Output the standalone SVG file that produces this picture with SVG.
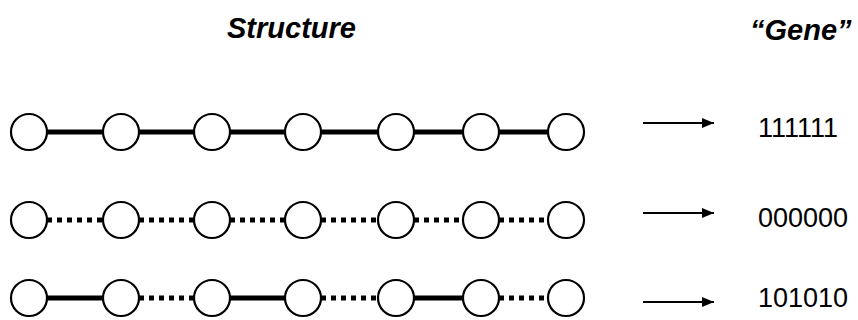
<svg xmlns="http://www.w3.org/2000/svg" width="858" height="320" viewBox="0 0 858 320">
<style>
.n{fill:#fff;stroke:#000;stroke-width:2.2}
.s{stroke:#000;stroke-width:5;fill:none}
.d{stroke:#000;stroke-width:5;fill:none;stroke-dasharray:5 5}
.a{stroke:#000;stroke-width:1.8;fill:none}
.h{font-family:"Liberation Sans",Arial,sans-serif;font-size:29px;font-weight:bold;font-style:italic;fill:#000}
.g{font-family:"Liberation Sans",Arial,sans-serif;font-size:27px;fill:#000}
</style>
<defs>
<marker id="ah" markerWidth="12" markerHeight="10" refX="12" refY="5" orient="auto" markerUnits="userSpaceOnUse">
<path d="M0,0 L12,5 L0,10 Z" fill="#000"/>
</marker>
</defs>
<text class="h" x="227" y="38">Structure</text>
<text class="h" x="750" y="40">“Gene”</text>
<g id="connectors">
<line class="s" x1="46" y1="132" x2="104" y2="132"/>
<line class="s" x1="138" y1="132" x2="195" y2="132"/>
<line class="s" x1="229" y1="132" x2="286" y2="132"/>
<line class="s" x1="320" y1="132" x2="379" y2="132"/>
<line class="s" x1="413" y1="132" x2="464" y2="132"/>
<line class="s" x1="498" y1="132" x2="549" y2="132"/>
<line class="d" x1="47" y1="220" x2="104" y2="220"/>
<line class="d" x1="139" y1="220" x2="195" y2="220"/>
<line class="d" x1="230" y1="220" x2="286" y2="220"/>
<line class="d" x1="321" y1="220" x2="379" y2="220"/>
<line class="d" x1="414" y1="220" x2="464" y2="220"/>
<line class="d" x1="499" y1="220" x2="549" y2="220"/>
<line class="s" x1="46" y1="298" x2="104" y2="298"/>
<line class="d" x1="139" y1="298" x2="195" y2="298"/>
<line class="s" x1="229" y1="298" x2="286" y2="298"/>
<line class="d" x1="321" y1="298" x2="379" y2="298"/>
<line class="s" x1="413" y1="298" x2="464" y2="298"/>
<line class="d" x1="499" y1="298" x2="549" y2="298"/>
<line class="a" x1="643" y1="123" x2="714" y2="123" marker-end="url(#ah)"/>
<line class="a" x1="643" y1="213" x2="714" y2="213" marker-end="url(#ah)"/>
<line class="a" x1="643" y1="302" x2="714" y2="302" marker-end="url(#ah)"/>
</g>
<g id="row1">
<circle class="n" cx="29" cy="132" r="18"/>
<circle class="n" cx="121" cy="132" r="18"/>
<circle class="n" cx="212" cy="132" r="18"/>
<circle class="n" cx="303" cy="132" r="18"/>
<circle class="n" cx="396" cy="132" r="18"/>
<circle class="n" cx="481" cy="132" r="18"/>
<circle class="n" cx="566" cy="132" r="18"/>
</g>
<g id="row2">
<circle class="n" cx="29" cy="220" r="18"/>
<circle class="n" cx="121" cy="220" r="18"/>
<circle class="n" cx="212" cy="220" r="18"/>
<circle class="n" cx="303" cy="220" r="18"/>
<circle class="n" cx="396" cy="220" r="18"/>
<circle class="n" cx="481" cy="220" r="18"/>
<circle class="n" cx="566" cy="220" r="18"/>
</g>
<g id="row3">
<circle class="n" cx="29" cy="298" r="18"/>
<circle class="n" cx="121" cy="298" r="18"/>
<circle class="n" cx="212" cy="298" r="18"/>
<circle class="n" cx="303" cy="298" r="18"/>
<circle class="n" cx="396" cy="298" r="18"/>
<circle class="n" cx="481" cy="298" r="18"/>
<circle class="n" cx="566" cy="298" r="18"/>
</g>
<g id="gene1"><text class="g" x="758" y="137">111111</text></g>
<g id="gene2"><text class="g" x="758" y="227">000000</text></g>
<g id="gene3"><text class="g" x="758" y="307">101010</text></g>
</svg>
